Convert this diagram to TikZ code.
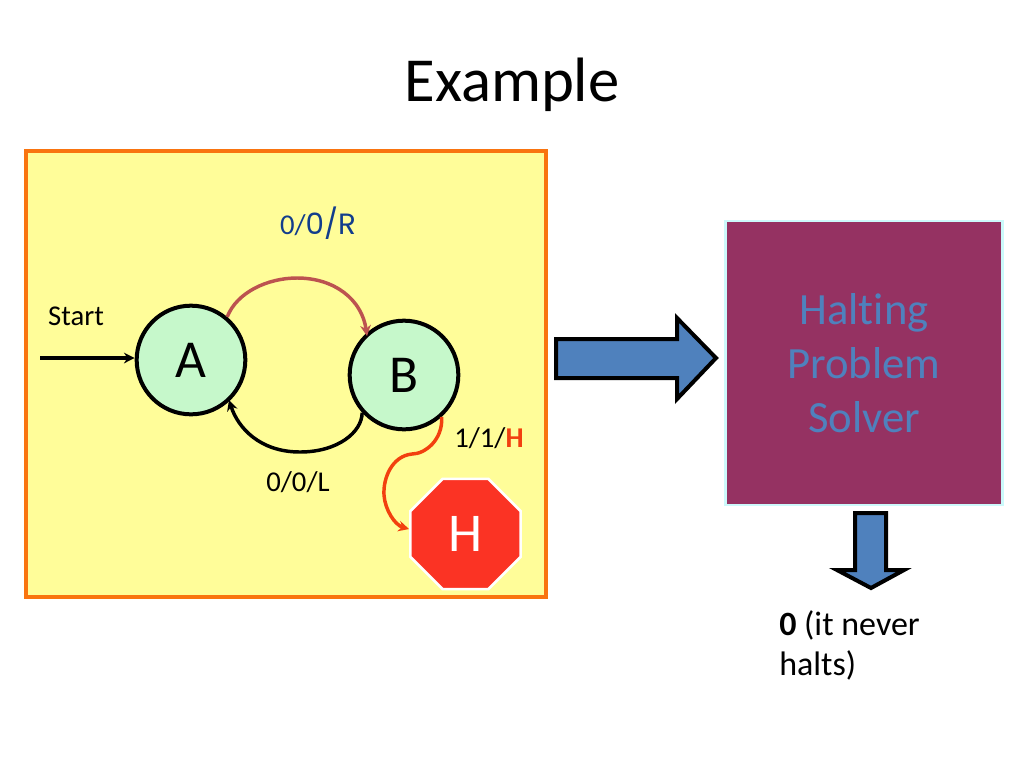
\documentclass[tikz,border=0pt]{standalone}
\usepackage{fontspec}
\setmainfont[Ligatures=NoCommon]{Carlito}
\newfontfamily\altfont{Poppins}
\usetikzlibrary{arrows.meta,shapes.geometric,shapes.arrows}
\definecolor{panelfill}{HTML}{FFFD99}
\definecolor{panelline}{HTML}{F9740F}
\definecolor{statefill}{HTML}{C6F8CB}
\definecolor{solverfill}{HTML}{953262}
\definecolor{solverline}{HTML}{CCF9FB}
\definecolor{solvertext}{HTML}{4F81BD}
\definecolor{bluearrow}{HTML}{4F81BD}
\definecolor{topcurve}{HTML}{BC5350}
\definecolor{haltred}{HTML}{F2400F}
\definecolor{stopfill}{HTML}{FB3324}
\definecolor{labelblue}{HTML}{123D8C}
\tikzset{
  x=0.75pt,y=-0.75pt,
  statenode/.style={circle,draw=black,line width=3pt,fill=statefill,minimum size=81.5pt,inner sep=0pt,font=\fontsize{40}{40}\selectfont},
  labeltext/.style={inner sep=0pt,font=\fontsize{21.5}{26}\selectfont},
  conn/.style={line width=2.6pt,-{Stealth[length=8pt,width=8pt]}},
  fatarrow/.style={draw=black,line width=3pt,fill=bluearrow,line join=miter}
}
\begin{document}
\begin{tikzpicture}
\useasboundingbox (0,0) rectangle (1024,768);
\fill[white] (0,0) rectangle (1024,768);
\node[inner sep=0pt,font=\fontsize{47}{47}\selectfont] (title) at (512,85) {Example};
\node[draw=panelline,fill=panelfill,line width=3pt,minimum width=390.5pt,minimum height=335pt,inner sep=0pt] (panel) at (286,374) {};
\node[labeltext] (start) at (76,316) {Start};
\node[statenode] (A) at (191,360) {A};
\node[statenode] (B) at (404,375) {B};
\coordinate (startfree) at (40,358);
\draw[conn] (startfree) -- (A.west|-startfree);
\draw[conn,topcurve] (A.50) .. controls (237,292) and (268,278) .. (297,278) .. controls (335,278) and (362,300) .. (367,336);
\draw[conn,black] (B.222) .. controls (362,432) and (338,452) .. (300,452) .. controls (260,452) and (238,428) .. (229,400);
\node[labeltext] (lbl0) at (298,482) {0/0/L};
\node[regular polygon,regular polygon sides=8,draw=white,line width=2pt,fill=stopfill,minimum size=89.5pt,inner sep=0pt,text=white,font=\fontsize{41}{41}\selectfont] (H) at (465.5,534) {H};
\draw[conn,haltred] (B.-48) .. controls (443,440) and (425,454) .. (412,454) .. controls (392,456) and (383,478) .. (384,495) .. controls (385,510) and (395,525) .. (H.175);
\node[labeltext] (lbl1) at (489,438) {1/1/\textcolor{haltred}{\textbf{H}}};
\node[inner sep=0pt,text=labelblue,font=\fontsize{21.5}{26}\selectfont] (lbl2) at (318,223) {0/{\altfont\fontsize{22}{22}\selectfont 0/R}};
\node[fill=solverfill,draw=solverline,line width=2.2pt,minimum width=208pt,minimum height=213pt,inner sep=0pt] (solver) at (864,363) {};
\node[align=center,text=solvertext,inner sep=0pt,font=\fontsize{33.5}{40.5}\selectfont] (solvertxt) at (864,363) {Halting\\Problem\\Solver};
\draw[fatarrow] (556,339) -- (677,339) -- (677,318) -- (716,358) -- (677,399) -- (677,378) -- (556,378) -- cycle;
\draw[fatarrow] (855,513) -- (886,513) -- (886,570) -- (904,570) -- (871,588) -- (837,570) -- (855,570) -- cycle;
\node[anchor=north west,align=left,inner sep=0pt,font=\fontsize{25.5}{30}\selectfont] (out) at (779,610) {\textbf{0} (it never\\halts)};
\end{tikzpicture}
\end{document}
